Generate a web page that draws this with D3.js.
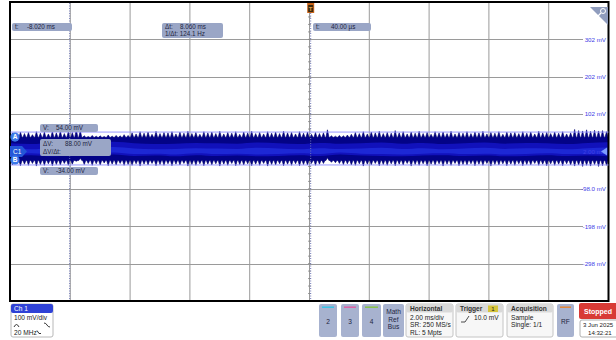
<!DOCTYPE html>
<html><head><meta charset="utf-8">
<script src="https://cdn.jsdelivr.net/npm/d3@7"></script>
<style>
html,body{margin:0;padding:0;background:#fff;}
svg{display:block;font-family:"Liberation Sans",Arial,sans-serif;}
</style></head>
<body><svg id="c" width="616" height="340"></svg>
<script>
// ---- data ----
const timeDomain = [-10, 10];            // ms, 2 ms/div x 10 div
const voltDomain = [-398, 402];          // mV, 100 mV/div x 8 div
const timeGrid = [-8, -6, -4, -2, 0, 2, 4, 6, 8];
const voltTicks = [302, 202, 102, 2, -98, -198, -298];
const voltLabels = ["302 mV", "202 mV", "102 mV", "2.00 mV", "-98.0 mV", "-198 mV", "-298 mV"];
const cursorTimes = [-8.02, 0.04];       // ms
const cursorVolts = [54, -34];           // mV
const coreLevels = [40, -22];            // mV, dense band edges
// spike tips of the noise envelope (mV), one per burst across the screen
const upperPeaks = [
52,48,54,50,53,47,55,51,
54,49,56,52,57,50,55,53,62,58,
44,42,45,43,44,42,46,43,45,44,47,45,
52,49,55,51,54,48,56,50,53,52,
55,49,54,51,56,50,53,48,55,52,
54,50,56,49,53,51,55,48,54,52,
56,50,53,49,55,51,54,50,56,52,
53,49,55,51,54,48,53,50,52,60,
44,43,45,44,46,48,
53,50,55,49,54,52,56,50,53,51,
58,52,55,49,54,51,56,50,53,48,
55,52,54,50,56,49,53,51,55,50,
54,52,56,49,53,51,55,48,54,52,
53,50,55,51,54,49,56,52,53,50,
54,51,55,49,52,
61,58,57,60,56,59,57,58,55];
const lowerPeaks = [
-34,-31,-36,-32,-35,-30,-37,-33,
-35,-31,-36,-33,-34,-30,-35,-32,-24,-16,
-33,-30,-35,-31,-34,-29,-36,-32,-34,-30,-35,-33,
-35,-31,-37,-32,-34,-30,-36,-33,-35,-31,
-36,-32,-34,-30,-37,-33,-35,-31,-36,-32,
-34,-31,-37,-32,-35,-30,-36,-33,-34,-31,
-36,-32,-35,-30,-37,-33,-34,-31,-36,-32,
-35,-31,-36,-33,-34,-30,-35,-32,-30,-15,
-27,-28,-30,-33,-31,-34,
-35,-31,-37,-32,-34,-30,-36,-33,-35,-31,
-36,-32,-34,-30,-37,-33,-35,-31,-36,-32,
-34,-31,-37,-32,-35,-30,-36,-33,-34,-31,
-36,-32,-35,-30,-37,-33,-34,-31,-36,-32,
-35,-31,-36,-33,-34,-30,-35,-32,-36,-31,
-35,-32,-36,-31,-34,
-37,-34,-38,-35,-37,-33,-38,-36,-35];
// brighter inner band edges (mV)
const innerTop = [24,22,25,23,26,28,24,22,23,25,24,23,26,24,22,25,23,24,26,23,25,22,24,26,23,25,24,22,25,27];
const innerBot = [-10,-8,-11,-9,-10,-6,-10,-9,-11,-8,-10,-9,-11,-10,-8,-10,-6,-9,-10,-11,-9,-8,-10,-9,-11,-10,-8,-10,-9,-11];

// ---- scales ----
const PL = 10.5, PR = 608.5, PT = 2, PB = 301;
const x = d3.scaleLinear().domain(timeDomain).range([PL, PR]);
const y = d3.scaleLinear().domain(voltDomain).range([PB, PT]);
const svg = d3.select("#c");

// grid
const grid = svg.append("g");
grid.selectAll("line.v").data(timeGrid).join("line")
  .attr("x1", d => x(d)).attr("x2", d => x(d)).attr("y1", PT).attr("y2", PB)
  .attr("stroke", "#9a9a9a").attr("stroke-width", 1);
grid.selectAll("line.h").data(voltTicks).join("line")
  .attr("x1", PL).attr("x2", 583).attr("y1", d => Math.round(y(d)) + 0.5).attr("y2", d => Math.round(y(d)) + 0.5)
  .attr("stroke", "#9a9a9a").attr("stroke-width", 1);
// center minor ticks on vertical center line
const minor = d3.range(voltDomain[0], voltDomain[1], 20);
grid.selectAll("line.m").data(minor).join("line")
  .attr("x1", x(0) - 1.5).attr("x2", x(0) + 1.5)
  .attr("y1", d => y(d)).attr("y2", d => y(d)).attr("stroke", "#888").attr("stroke-width", 0.8);

// waveform envelope
const step = (timeDomain[1] - timeDomain[0]) / upperPeaks.length;
const spikeT = upperPeaks.map((_, i) => timeDomain[0] + step * (i + 0.5));
const hw = step * 0.38;
let pts = [[x(timeDomain[0]), y(coreLevels[0])]];
spikeT.forEach((t, i) => {
  pts.push([x(t - hw), y(coreLevels[0])]);
  pts.push([x(t), y(upperPeaks[i])]);
  pts.push([x(t + hw), y(coreLevels[0])]);
});
pts.push([x(timeDomain[1]), y(coreLevels[0])]);
pts.push([x(timeDomain[1]), y(coreLevels[1])]);
for (let i = spikeT.length - 1; i >= 0; i--) {
  const t = spikeT[i];
  pts.push([x(t + hw), y(coreLevels[1])]);
  pts.push([x(t), y(lowerPeaks[i])]);
  pts.push([x(t - hw), y(coreLevels[1])]);
}
pts.push([x(timeDomain[0]), y(coreLevels[1])]);
svg.append("path").attr("d", d3.line()(pts)).attr("fill", "#030386").attr("stroke", "#02026e").attr("stroke-width", 0.6);

// inner brighter band
const iStep = (timeDomain[1] - timeDomain[0]) / (innerTop.length - 1);
const innerT = innerTop.map((_, i) => timeDomain[0] + iStep * i);
svg.append("path")
  .datum(innerT.map((t, i) => ({t, a: innerTop[i], b: innerBot[i]})))
  .attr("d", d3.area().x(d => x(d.t)).y0(d => y(d.b)).y1(d => y(d.a)).curve(d3.curveMonotoneX))
  .attr("fill", "#1414c4").attr("opacity", 0.85);
svg.append("path")
  .datum(innerT.map((t, i) => ({t, a: innerTop[i] - 14, b: innerBot[i] + 5})))
  .attr("d", d3.area().x(d => x(d.t)).y0(d => y(d.b)).y1(d => y(d.a)).curve(d3.curveMonotoneX))
  .attr("fill", "#2638e6").attr("opacity", 0.6);

// plot border
svg.append("rect").attr("x", PL - 0.5).attr("y", PT).attr("width", PR - PL + 0.5).attr("height", PB - PT)
  .attr("fill", "none").attr("stroke", "#000").attr("stroke-width", 2);

// right voltage labels
svg.append("g").selectAll("text").data(voltTicks).join("text")
  .attr("x", 606).attr("y", d => y(d) + 2.3).attr("text-anchor", "end")
  .attr("font-size", 6.2).attr("fill", "#4040e6").text((d, i) => voltLabels[i]);
// offset arrow at right
svg.append("path").attr("d", `M607,${y(2)-4} L601,${y(2)} L607,${y(2)+4} Z`).attr("fill", "#7d9bff");

// cursor lines
svg.selectAll("line.vc").data(cursorTimes).join("line")
  .attr("x1", d => x(d)).attr("x2", d => x(d)).attr("y1", PT + 1).attr("y2", PB - 1)
  .attr("stroke", "#6f78b8").attr("stroke-width", 1).attr("stroke-dasharray", "1,1.5");
svg.selectAll("line.hc").data(cursorVolts).join("line")
  .attr("x1", PL).attr("x2", PR).attr("y1", d => y(d)).attr("y2", d => y(d))
  .attr("stroke", "#8c8cff").attr("stroke-width", 0.9);

// readout boxes
function box(x0, y0, w, h, lines) {
  svg.append("rect").attr("x", x0).attr("y", y0).attr("width", w).attr("height", h).attr("rx", 2)
    .attr("fill", "#9aa6c6");
  lines.forEach(l => svg.append("text").attr("x", l[0]).attr("y", l[1]).attr("font-size", 6.3)
    .attr("fill", "#1d2440").attr("xml:space", "preserve").text(l[2]));
}
box(12, 23, 60, 8, [[15, 29.3, "t:"], [27, 29.3, "-8.020 ms"]]);
box(162, 23, 61, 15, [[165, 29.3, "Δt:"], [180, 29.3, "8.060 ms"], [165, 36.3, "1/Δt: 124.1 Hz"]]);
box(313, 23, 58, 8, [[316, 29.3, "t:"], [331, 29.3, "40.00 µs"]]);
box(40, 124, 58, 8, [[43, 130.3, "V:"], [56, 130.3, "54.00 mV"]]);
box(40, 139, 71, 17, [[43, 146, "ΔV:"], [65, 146, "88.00 mV"], [43, 153.5, "ΔV/Δt:"]]);
box(40, 167, 58, 8, [[43, 173.3, "V:"], [56, 173.3, "-34.00 mV"]]);

// trigger marker
svg.append("rect").attr("x", x(0.04) - 3.5).attr("y", 3).attr("width", 7).attr("height", 10).attr("fill", "#c8641a");
svg.append("rect").attr("x", x(0.04) - 2.5).attr("y", 5).attr("width", 5).attr("height", 7).attr("fill", "#3a2a10");
svg.append("text").attr("x", x(0.04)).attr("y", 11).attr("text-anchor", "middle").attr("font-size", 6).attr("font-weight", "bold").attr("fill", "#e8a040").text("T");

// zoom corner
svg.append("path").attr("d", "M590,7 L608,7 L608,25 Z").attr("fill", "#8f9cbd");
svg.append("circle").attr("cx", 603).attr("cy", 11).attr("r", 2.5).attr("fill", "none").attr("stroke", "#fff").attr("stroke-width", 1);
svg.append("line").attr("x1", 601).attr("y1", 13).attr("x2", 598).attr("y2", 16).attr("stroke", "#fff").attr("stroke-width", 1.2);

// left markers
svg.append("path").attr("d", "M10,146 L22,146 L27,151.5 L22,157 L10,157 Z").attr("fill", "#2456d8");
svg.append("text").attr("x", 13).attr("y", 154).attr("font-size", 6.5).attr("fill", "#fff").text("C1");
[["A", y(cursorVolts[0]) + 5], ["B", y(cursorVolts[1]) - 5]].forEach(m => {
  svg.append("circle").attr("cx", 15).attr("cy", m[1]).attr("r", 4.6).attr("fill", "#3a78e8");
  svg.append("text").attr("x", 15).attr("y", m[1] + 2.4).attr("text-anchor", "middle").attr("font-size", 6.5)
    .attr("font-weight", "bold").attr("fill", "#fff").text(m[0]);
});

// ---- bottom control bar ----
const fs = 6.6;
// Ch 1
svg.append("rect").attr("x", 11).attr("y", 304).attr("width", 42).attr("height", 33).attr("rx", 2)
  .attr("fill", "#fff").attr("stroke", "#b8b8b8");
svg.append("rect").attr("x", 11).attr("y", 304).attr("width", 42).attr("height", 9).attr("rx", 2).attr("fill", "#2f42d6");
svg.append("text").attr("x", 14).attr("y", 311).attr("font-size", fs).attr("fill", "#fff").text("Ch 1");
svg.append("text").attr("x", 14).attr("y", 320).attr("font-size", fs).attr("fill", "#222").text("100 mV/div");
// coupling / invert icons
svg.append("path").attr("d", "M14,327 Q16.5,322 19,327").attr("fill", "none").attr("stroke", "#222").attr("stroke-width", 0.9);
svg.append("path").attr("d", "M44,323 Q46,323 47,325 Q48,327 50,327").attr("fill", "none").attr("stroke", "#222").attr("stroke-width", 0.9);
svg.append("text").attr("x", 14).attr("y", 335).attr("font-size", fs).attr("fill", "#222").text("20 MHz");
svg.append("path").attr("d", "M37,330.5 L39,333.5 L41,333.5").attr("fill", "none").attr("stroke", "#222").attr("stroke-width", 0.9);

function btn(x0, w, label, color) {
  svg.append("rect").attr("x", x0).attr("y", 304).attr("width", w).attr("height", 33).attr("rx", 2).attr("fill", "#a7b2cf");
  if (color) svg.append("rect").attr("x", x0 + 3).attr("y", 306.5).attr("width", w - 6).attr("height", 1.4).attr("fill", color);
  const ls = label.split("\n");
  ls.forEach((l, i) => svg.append("text").attr("x", x0 + w / 2).attr("y", (ls.length === 1 ? 324 : 314 + i * 7.5))
    .attr("text-anchor", "middle").attr("font-size", fs).attr("fill", "#1d2440").text(l));
}
btn(319, 18, "2", "#2ec5e8");
btn(341, 18, "3", "#e45aa0");
btn(362, 19, "4", "#84c43c");
btn(383, 21, "Math\nRef\nBus", null);
btn(557, 17, "RF", "#e8822c");

function panel(x0, w, title, lines) {
  svg.append("rect").attr("x", x0).attr("y", 304).attr("width", w).attr("height", 33).attr("rx", 2)
    .attr("fill", "#f7f7f7").attr("stroke", "#c4c4c4");
  svg.append("rect").attr("x", x0).attr("y", 304).attr("width", w).attr("height", 8.5).attr("rx", 2).attr("fill", "#d9d9d9");
  svg.append("text").attr("x", x0 + 4).attr("y", 310.8).attr("font-size", fs).attr("font-weight", "bold").attr("fill", "#333").text(title);
  lines.forEach((l, i) => svg.append("text").attr("x", l[0]).attr("y", 319.5 + i * 7.5).attr("font-size", fs)
    .attr("fill", "#222").attr("xml:space", "preserve").text(l[1]));
}
panel(406, 47, "Horizontal", [[410, "2.00 ms/div"], [410, "SR: 250 MS/s"], [410, "RL: 5 Mpts"]]);
panel(456, 47, "Trigger", [[474, "10.0 mV"]]);
svg.append("path").attr("d", "M461,322 L465,322 L469,316").attr("fill", "none").attr("stroke", "#222").attr("stroke-width", 0.8);
svg.append("rect").attr("x", 488).attr("y", 305.5).attr("width", 10).attr("height", 6.5).attr("fill", "#d6c43a");
svg.append("text").attr("x", 493).attr("y", 311).attr("text-anchor", "middle").attr("font-size", 6).attr("fill", "#222").text("1");
panel(507, 46, "Acquisition", [[511, "Sample"], [511, "Single: 1/1"]]);

// Stopped + date
svg.append("rect").attr("x", 579).attr("y", 303).attr("width", 40).attr("height", 16).attr("rx", 2).attr("fill", "#d83a35");
svg.append("text").attr("x", 584).attr("y", 313.5).attr("font-size", 7).attr("font-weight", "bold").attr("fill", "#fff").text("Stopped");
svg.append("rect").attr("x", 580).attr("y", 320).attr("width", 40).attr("height", 17).attr("rx", 2).attr("fill", "#fff").attr("stroke", "#b0b0b0");
svg.append("text").attr("x", 583).attr("y", 327).attr("font-size", 6.1).attr("fill", "#222").text("3 Jun 2025");
svg.append("text").attr("x", 588).attr("y", 334.5).attr("font-size", 6.1).attr("fill", "#222").text("14:32:21");
</script></body></html>
